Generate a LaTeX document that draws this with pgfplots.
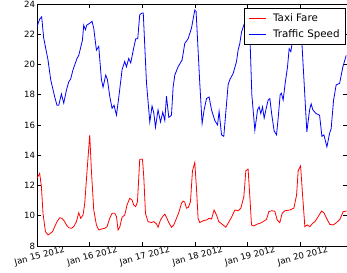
\documentclass[border=0pt]{standalone}
\usepackage{pgfplots}
\pgfplotsset{compat=1.18}
\usepackage{fontspec}
\setmainfont{DejaVu Sans}
\begin{document}
\begin{tikzpicture}
\begin{axis}[
  name=ax,
  scale only axis,
  width=310bp, height=242bp,
  xmin=0, xmax=5.89,
  ymin=8, ymax=24,
  ytick={8,10,12,14,16,18,20,22,24},
  xtick={0,1,2,3,4,5},
  xticklabels={Jan 15 2012,Jan 16 2012,Jan 17 2012,Jan 18 2012,Jan 19 2012,Jan 20 2012},
  /pgf/number format/assume math mode=true,
  tick align=inside,
  major tick length=4bp,
  axis line style={black, line width=0.8bp},
  tick style={black, line width=0.6bp},
  every tick label/.append style={font=\fontsize{8.6bp}{10bp}\selectfont},
  x tick label style={rotate=15, anchor=north, yshift=-3bp},
  y tick label style={xshift=1.5bp},
  legend cell align=left,
  legend style={at={(1,1)}, anchor=north east, xshift=-1bp, yshift=-4bp,
    draw=black, line width=0.8bp, fill=white,
    font=\fontsize{10.3bp}{12bp}\selectfont,
    inner xsep=4bp, inner ysep=2.5bp, row sep=1.5bp},
  legend image code/.code={\draw[#1, line width=0.8bp] (0bp,0bp) -- (17bp,0bp); \path (22bp,-7bp) (22bp,7bp);},
]
\addplot[color=red, line width=0.8bp] coordinates {
(0,12.48) (0.051,12.8) (0.084,11.92) (0.114,10.16) (0.160,8.95) (0.209,8.73) (0.241,8.8) (0.293,8.95)
(0.337,9.28) (0.380,9.61) (0.432,9.87) (0.475,9.83) (0.527,9.61) (0.559,9.39) (0.603,9.21) (0.654,9.17)
(0.698,9.28) (0.749,9.61) (0.793,10.2) (0.831,9.83) (0.875,10.05) (0.907,10.82) (0.951,12.97) (1.002,15.34)
(1.034,12.97) (1.078,10.38) (1.129,9.39) (1.173,9.06) (1.224,9.12) (1.287,9.17) (1.331,9.28) (1.382,9.83)
(1.426,10.16) (1.477,10.16) (1.510,9.94) (1.540,9.06) (1.572,9.24) (1.616,9.9) (1.667,10.05) (1.711,10.71)
(1.762,11.15) (1.806,11.04) (1.838,10.71) (1.876,10.6) (1.909,10.93) (1.952,13.74) (2.004,13.74) (2.029,12.55)
(2.061,10.16) (2.110,9.61) (2.175,9.55) (2.219,9.61) (2.270,9.46) (2.300,9.24) (2.346,9.72) (2.395,9.98)
(2.428,10.1) (2.460,9.9) (2.504,9.55) (2.555,9.24) (2.599,9.39) (2.650,9.83) (2.700,10.27) (2.745,10.82)
(2.776,10.97) (2.808,10.9) (2.840,10.5) (2.875,10.55) (2.916,10.93) (2.954,12.97) (2.998,13.52) (3.030,11.81)
(3.061,9.83) (3.093,9.55) (3.156,9.67) (3.221,9.72) (3.270,9.83) (3.316,9.78) (3.365,10.38) (3.411,10.05)
(3.454,9.61) (3.536,9.39) (3.587,9.24) (3.631,9.5) (3.696,9.9) (3.759,10.38) (3.821,10.33) (3.873,10.5)
(3.930,11.26) (3.968,12.97) (4.011,13.08) (4.044,11.26) (4.076,9.39) (4.120,9.32) (4.171,9.43) (4.234,9.5)
(4.297,9.61) (4.361,9.76) (4.405,10.27) (4.456,10.33) (4.519,10.3) (4.563,9.72) (4.614,9.55) (4.658,10.16)
(4.709,10.33) (4.804,10.38) (4.880,10.5) (4.932,11.37) (4.962,12.97) (5.008,13.3) (5.046,11.37) (5.089,9.28)
(5.133,9.39) (5.184,9.28) (5.236,9.5) (5.279,9.61) (5.342,9.94) (5.407,10.31) (5.451,10.2) (5.502,9.83)
(5.564,9.43) (5.627,9.39) (5.692,9.55) (5.755,9.76) (5.818,10.27) (5.882,10.31)
};
\addlegendentry{Taxi Fare}
\addplot[color=blue, line width=0.8bp] coordinates {
(0,22.5) (0.051,23.0) (0.089,23.15) (0.127,21.75) (0.209,20.3) (0.260,19.0) (0.337,17.85) (0.380,17.3)
(0.413,17.3) (0.464,18.05) (0.508,17.45) (0.559,18.3) (0.603,18.85) (0.641,19.05) (0.684,19.65) (0.760,20.4)
(0.793,20.6) (0.863,21.6) (0.888,22.6) (0.920,22.3) (0.945,22.6) (0.989,22.7) (1.046,22.85) (1.078,22.4)
(1.129,20.95) (1.173,21.2) (1.224,19.0) (1.255,18.5) (1.306,19.3) (1.338,19.0) (1.382,17.9) (1.426,17.1)
(1.464,17.3) (1.510,16.65) (1.553,17.8) (1.616,19.65) (1.667,20.2) (1.700,19.85) (1.743,20.4) (1.781,20.1)
(1.829,20.95) (1.876,21.7) (1.914,21.7) (1.952,23.3) (1.996,23.4) (2.019,23.4) (2.080,18.8) (2.143,16.2)
(2.186,17.25) (2.219,16.8) (2.251,15.85) (2.300,17.0) (2.346,16.2) (2.390,16.85) (2.428,16.3) (2.460,17.9)
(2.504,16.5) (2.555,16.65) (2.586,18.5) (2.618,19.3) (2.681,19.85) (2.757,20.3) (2.808,21.4) (2.871,21.7)
(2.935,22.4) (2.998,23.6) (3.023,23.5) (3.093,18.75) (3.137,16.1) (3.175,17.0) (3.221,17.75) (3.270,17.85)
(3.316,17.0) (3.378,16.3) (3.430,16.0) (3.460,16.9) (3.506,15.35) (3.549,15.25) (3.631,18.65) (3.664,19.0)
(3.726,19.4) (3.791,20.2) (3.821,20.95) (3.854,21.4) (3.886,22.15) (3.930,22.6) (3.968,23.0) (4.006,23.2)
(4.044,22.0) (4.082,18.0) (4.139,15.65) (4.190,17.0) (4.221,17.2) (4.253,16.75) (4.285,17.2) (4.316,16.45)
(4.361,17.2) (4.392,17.65) (4.424,17.75) (4.462,16.65) (4.506,15.6) (4.551,15.35) (4.582,16.45) (4.620,18.0)
(4.643,18.1) (4.677,17.65) (4.715,18.75) (4.760,19.85) (4.791,21.05) (4.823,20.85) (4.856,21.6) (4.899,22.5)
(4.947,23.3) (4.994,23.4) (5.032,21.5) (5.080,18.5) (5.127,15.55) (5.179,17.0) (5.209,17.4) (5.241,17.0)
(5.304,16.75) (5.369,16.65) (5.413,15.25) (5.451,15.35) (5.508,14.55) (5.559,15.45) (5.589,15.75) (5.635,17.65)
(5.684,18.65) (5.749,18.75) (5.812,19.85) (5.875,20.6)
};
\addlegendentry{Traffic Speed}
\end{axis}
\pgfresetboundingbox
\path[use as bounding box] ([xshift=-37bp,yshift=-27bp]ax.south west) rectangle ([yshift=4bp]ax.north east);
\end{tikzpicture}
\end{document}
